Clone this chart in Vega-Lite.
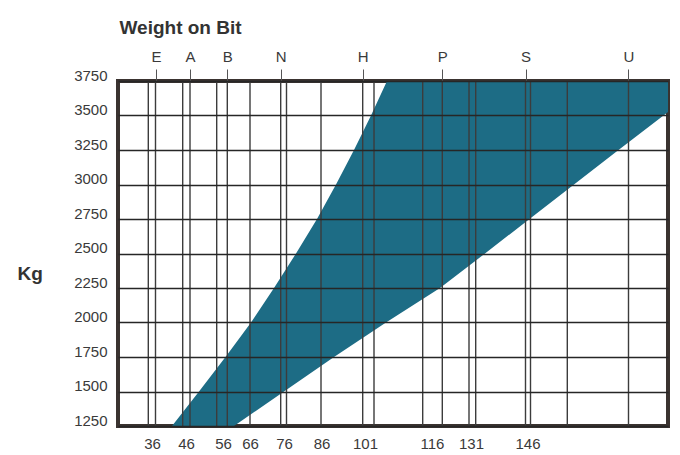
{
  "$schema": "https://vega.github.io/schema/vega-lite/v6.json",
  "width": 550,
  "height": 345,
  "autosize": {"type": "none"},
  "padding": {"left": 118, "top": 81, "right": 12, "bottom": 29},
  "background": "white",
  "config": {
    "view": {"stroke": "#3a3330", "strokeWidth": 4},
    "font": "Liberation Sans"
  },
  "datasets": {
    "band": [
      {"kg": 1250, "left": 54, "right": 116},
      {"kg": 1500, "left": 81, "right": 166},
      {"kg": 1750, "left": 107.5, "right": 216},
      {"kg": 2000, "left": 133, "right": 268},
      {"kg": 2250, "left": 156, "right": 322},
      {"kg": 2500, "left": 178, "right": 367},
      {"kg": 2750, "left": 199, "right": 411.5},
      {"kg": 3000, "left": 218, "right": 456},
      {"kg": 3250, "left": 236, "right": 500.5},
      {"kg": 3500, "left": 253, "right": 545.5},
      {"kg": 3750, "left": 269, "right": 590}
    ],
    "vlines": [
      {"pos": 30.3}, {"pos": 37.5}, {"pos": 64.7}, {"pos": 72}, {"pos": 98.7},
      {"pos": 109.3}, {"pos": 132}, {"pos": 162.7}, {"pos": 168.5}, {"pos": 203},
      {"pos": 244.7}, {"pos": 256}, {"pos": 304.7}, {"pos": 324.3}, {"pos": 351},
      {"pos": 357.7}, {"pos": 407.5}, {"pos": 412.5}, {"pos": 449.3}, {"pos": 510.5}
    ]
  },
  "layer": [
    {
      "data": {"name": "band"},
      "mark": {"type": "area", "orient": "horizontal", "color": "#1d6c85", "clip": true, "opacity": 1},
      "encoding": {
        "y": {
          "field": "kg", "type": "quantitative",
          "scale": {"domain": [1250, 3750], "nice": false, "zero": false},
          "axis": {
            "values": [1250, 1500, 1750, 2000, 2250, 2500, 2750, 3000, 3250, 3500, 3750],
            "format": "d",
            "grid": true, "gridColor": "#262626", "gridWidth": 1.6, "gridOpacity": 1,
            "zindex": 1,
            "domain": false, "ticks": false, "tickSize": 0,
            "labelPadding": 11, "labelFontSize": 15, "labelColor": "#3a3a3a",
            "labelBaseline": "alphabetic", "labelOffset": -1,
            "title": "Kg", "titleAngle": 0, "titleAlign": "left", "titleBaseline": "alphabetic",
            "titleX": -101, "titleY": 198,
            "titleFont": "Liberation Sans", "titleFontWeight": "bold",
            "titleFontSize": 19, "titleColor": "#333333"
          }
        },
        "x": {
          "field": "left", "type": "quantitative",
          "scale": {"domain": [0, 550], "nice": false, "zero": false},
          "axis": {
            "orient": "bottom",
            "values": [34, 68, 105, 132, 166, 203.5, 247, 314, 353, 409.5],
            "labelExpr": "['36','46','56','66','76','86','101','116','131','146'][indexof([34, 68, 105, 132, 166, 203.5, 247, 314, 353, 409.5], datum.value)]",
            "grid": false, "domain": false, "ticks": false, "tickSize": 0,
            "labelPadding": 10, "labelFontSize": 15, "labelColor": "#3a3a3a",
            "labelFlush": false, "labelOverlap": false,
            "title": null
          }
        },
        "x2": {"field": "right"}
      }
    },
    {
      "data": {"name": "vlines"},
      "mark": {"type": "rule", "color": "#3c3c3c", "strokeWidth": 1.4},
      "encoding": {
        "x": {
          "field": "pos", "type": "quantitative",
          "axis": {
            "orient": "top",
            "values": [38, 72, 109.3, 162.7, 244.7, 324.3, 407.5, 510.3],
            "labelExpr": "['E','A','B','N','H','P','S','U'][indexof([38, 72, 109.3, 162.7, 244.7, 324.3, 407.5, 510.3], datum.value)]",
            "grid": false, "domain": false, "ticks": true, "tickSize": 12,
            "tickColor": "#555555", "tickWidth": 1,
            "labelPadding": 5, "labelFontSize": 15, "labelColor": "#3a3a3a",
            "labelFlush": false, "labelOverlap": false,
            "title": "Weight on Bit", "titleX": 1, "titleY": -48,
            "titleAlign": "left", "titleBaseline": "alphabetic", "titleAnchor": null,
            "titleFont": "Liberation Sans", "titleFontWeight": "bold",
            "titleFontSize": 19, "titleColor": "#333333"
          }
        }
      }
    }
  ],
  "resolve": {"axis": {"x": "independent"}}
}
